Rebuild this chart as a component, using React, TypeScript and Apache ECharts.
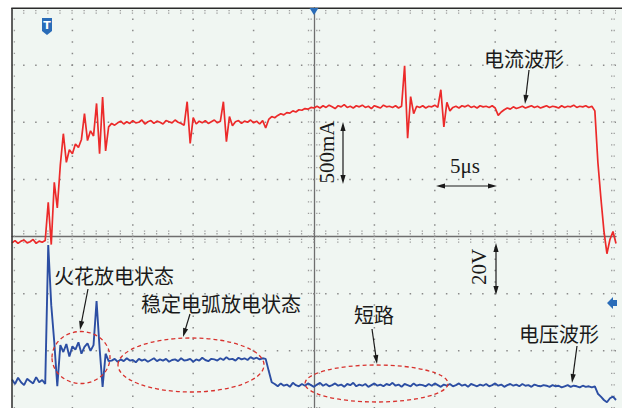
import React, { useEffect, useRef } from "react";
import * as echarts from "echarts";

// Oscilloscope capture: time in µs (screen centre = 0), amplitude in divisions from screen centre.
const TIME_START_US = -25;
const SAMPLE_STEP_US = 0.25;
const TIME_MIN_US = -25;
const TIME_MAX_US = 25;
const TIME_DIV_US = 5;
const DIV_MIN = -3;
const DIV_MAX = 4;
const MINOR_PER_DIV = 5;
const GRID_X_US = [-20, -15, -10, -5, 5, 10, 15, 20];
const GRID_Y_DIV = [-2, -1, 1, 2, 3];

// Current waveform (red), 500 mA/div
const CURRENT_DIV = [
  -0.11, -0.07, -0.12, -0.08, -0.06, -0.11, -0.09, -0.05, -0.12, -0.08, -0.1, -0.07,
  0.6, -0.14, 0.95, 0.5, 1.25, 1.8, 1.3, 1.52, 1.45, 1.62, 1.56, 1.7, 2.15, 1.68, 1.85, 1.76,
  2.33, 1.45, 2.44, 1.5, 1.92, 1.98, 1.95,
  1.99, 2.02, 1.97, 2.01, 1.98, 2.03, 1.99, 2.0, 2.04, 1.97, 2.01, 2.03, 1.98, 2.02, 2.0, 1.97,
  2.03, 2.01, 1.99, 2.04, 2.0, 1.98,
  1.95, 2.36, 1.63, 2.08, 1.97,
  2.02, 1.99, 2.03, 1.98, 2.01, 2.04, 1.99, 2.02,
  2.36, 1.66, 2.1, 1.94,
  2.01, 2.03, 1.98, 2.02, 2.0, 2.04, 1.99, 2.02, 1.97, 2.03, 1.9,
  2.05, 2.1, 2.08, 2.12, 2.15, 2.13, 2.17, 2.16, 2.2, 2.18, 2.22, 2.21, 2.24, 2.23, 2.26, 2.25,
  2.28, 2.25, 2.29, 2.26, 2.3, 2.27, 2.24, 2.29, 2.27, 2.31, 2.26, 2.28, 2.25, 2.29, 2.27, 2.3,
  2.26, 2.28, 2.24, 2.29, 2.27, 2.25, 2.3, 2.27, 2.28, 2.26, 2.29, 2.25, 2.28,
  2.99, 1.72, 2.45, 2.15,
  2.28, 2.26, 2.29, 2.25, 2.28, 2.27, 2.3, 2.26,
  2.57, 1.92, 2.35, 2.2,
  2.26, 2.28, 2.25, 2.29, 2.27, 2.3, 2.26, 2.28, 2.25, 2.29, 2.27, 2.28, 2.26, 2.29, 2.25,
  2.12, 2.18,
  2.22, 2.25, 2.23, 2.27, 2.24, 2.26, 2.28, 2.25, 2.27, 2.29, 2.26, 2.28, 2.25, 2.27, 2.29,
  2.26, 2.28, 2.27, 2.25, 2.29, 2.26, 2.28, 2.27, 2.3, 2.26, 2.28, 2.27, 2.29, 2.26, 2.28,
  2.2, 1.3, 0.67, 0.1, -0.3, -0.05, 0.09, -0.12,
];

// Voltage waveform (blue), 20 V/div
const VOLTAGE_DIV = [
  -2.5, -2.58, -2.47, -2.55, -2.6, -2.49, -2.53, -2.57, -2.46, -2.55, -2.51, -2.58,
  -0.15, -1.2, -1.85, -2.62, -1.9,
  -2.02, -1.88, -2.1, -1.92, -1.98, -1.85, -2.05, -1.93, -1.87, -2.0, -1.9,
  -1.13, -1.95, -2.63, -2.05, -2.18,
  -2.17, -2.14, -2.19, -2.15, -2.18, -2.13, -2.17, -2.16, -2.2, -2.14,
  -2.17, -2.15, -2.19, -2.16, -2.13, -2.18, -2.15, -2.17, -2.14, -2.19,
  -2.16, -2.15, -2.18, -2.13, -2.17, -2.16, -2.14, -2.19, -2.15, -2.17,
  -2.12, -2.16, -2.18, -2.14, -2.15, -2.17, -2.13, -2.16, -2.11, -2.15,
  -2.14, -2.17, -2.12, -2.15, -2.13, -2.16, -2.11, -2.14, -2.12, -2.15,
  -2.13, -2.14,
  -2.35, -2.55,
  -2.58, -2.62, -2.57, -2.61, -2.59, -2.63, -2.56, -2.6, -2.62, -2.58,
  -2.61, -2.57, -2.6, -2.63, -2.59, -2.56, -2.61, -2.58, -2.62, -2.6,
  -2.57, -2.61, -2.59, -2.63, -2.58, -2.6, -2.56, -2.62, -2.59, -2.61,
  -2.58, -2.63, -2.6, -2.57, -2.61, -2.59, -2.62, -2.58, -2.6, -2.56,
  -2.61, -2.59, -2.63, -2.58, -2.6, -2.62, -2.57, -2.61, -2.59, -2.6,
  -2.62, -2.58, -2.61, -2.57, -2.6, -2.63, -2.59, -2.61, -2.58, -2.62,
  -2.6, -2.57, -2.61, -2.59, -2.63, -2.58, -2.6, -2.62, -2.59, -2.61,
  -2.58, -2.62, -2.6, -2.57, -2.61, -2.59, -2.63, -2.6, -2.58, -2.61,
  -2.59, -2.62, -2.58, -2.61, -2.6, -2.63, -2.59, -2.61, -2.62, -2.6,
  -2.61, -2.63, -2.6, -2.62, -2.61, -2.64, -2.62, -2.6, -2.63, -2.61,
  -2.62, -2.64, -2.61, -2.63, -2.62, -2.64,
  -2.62, -2.75, -2.8, -2.86, -2.9, -2.83, -2.8, -2.86,
];

const LABEL_CURRENT = "电流波形";
const LABEL_VOLTAGE = "电压波形";
const LABEL_SPARK = "火花放电状态";
const LABEL_ARC = "稳定电弧放电状态";
const LABEL_SHORT = "短路";
const SCALE_CURRENT = "500mA";
const SCALE_TIME = "5μs";
const SCALE_VOLTAGE = "20V";

const CJK = "'Noto Sans CJK SC', sans-serif";
const SERIF = "'Liberation Serif', 'DejaVu Serif', serif";
const INK = "#1a1a1a";
const DOT = "#8a8a8a";
const TICK = "#9c9c9c";
const MARKER = "#2a6cb8";

function arrow(x1: number, y1: number, x2: number, y2: number, both = false) {
  const a = Math.atan2(y2 - y1, x2 - x1);
  const L = 9;
  const W = 2.6;
  const head = (x: number, y: number, ang: number) => {
    const bx = x - L * Math.cos(ang);
    const by = y - L * Math.sin(ang);
    const px = -Math.sin(ang) * W;
    const py = Math.cos(ang) * W;
    return {
      type: "polygon",
      z: 100,
      silent: true,
      shape: { points: [[x, y], [bx + px, by + py], [bx - px, by - py]] },
      style: { fill: INK },
    };
  };
  const sx = both ? x1 + (L - 2) * Math.cos(a) : x1;
  const sy = both ? y1 + (L - 2) * Math.sin(a) : y1;
  const els: any[] = [
    {
      type: "line",
      z: 100,
      silent: true,
      shape: { x1: sx, y1: sy, x2: x2 - (L - 2) * Math.cos(a), y2: y2 - (L - 2) * Math.sin(a) },
      style: { stroke: INK, lineWidth: 1.2 },
    },
    head(x2, y2, a),
  ];
  if (both) els.push(head(x1, y1, a + Math.PI));
  return els;
}

function text(str: string, x: number, y: number, font: string, size: number, rotation = 0, align = "left") {
  return {
    type: "text",
    z: 100,
    silent: true,
    x,
    y,
    rotation,
    style: {
      text: str,
      fill: INK,
      fontFamily: font,
      fontSize: size,
      align,
      textAlign: align,
      verticalAlign: "middle",
      textVerticalAlign: "middle",
    },
  };
}

function ellipse(cx: number, cy: number, rx: number, ry: number) {
  return {
    type: "ellipse",
    z: 99,
    silent: true,
    shape: { cx, cy, rx, ry },
    style: { fill: "none", stroke: "#d8322e", lineWidth: 1.3, lineDash: [4, 3] },
  };
}

export default function App() {
  const ref = useRef<HTMLDivElement>(null);
  useEffect(() => {
    const chart = echarts.init(ref.current!, undefined, { renderer: "svg" });
    const current = CURRENT_DIV.map((v, i) => [TIME_START_US + i * SAMPLE_STEP_US, v]);
    const voltage = VOLTAGE_DIV.map((v, i) => [TIME_START_US + i * SAMPLE_STEP_US, v]);

    const renderGrid = (_params: any, api: any) => {
      const tl = api.coord([TIME_MIN_US, DIV_MAX]);
      const br = api.coord([TIME_MAX_US, DIV_MIN]);
      const c = api.coord([0, 0]);
      const stepX = (br[0] - tl[0]) / ((TIME_MAX_US - TIME_MIN_US) / TIME_DIV_US) / MINOR_PER_DIV;
      const stepY = (br[1] - tl[1]) / (DIV_MAX - DIV_MIN) / MINOR_PER_DIV;
      const hline = (y: number, w: number, color: string) => ({
        type: "line",
        shape: { x1: tl[0], y1: y, x2: br[0] + 0.01, y2: y },
        style: { stroke: color, lineWidth: w, lineDash: [w, stepX - w], lineDashOffset: w / 2 },
      });
      const vline = (x: number, w: number, color: string) => ({
        type: "line",
        shape: { x1: x, y1: tl[1], x2: x, y2: br[1] + 0.01 },
        style: { stroke: color, lineWidth: w, lineDash: [w, stepY - w], lineDashOffset: w / 2 },
      });
      const children: any[] = [];
      GRID_X_US.forEach((t) => children.push(vline(api.coord([t, 0])[0], 1.5, DOT)));
      GRID_Y_DIV.forEach((d) => children.push(hline(api.coord([0, d])[1], 1.5, DOT)));
      [-5.5, -2.8, 2.8, 5.5].forEach((o) => {
        children.push(hline(c[1] + o, 1.3, TICK));
        children.push(vline(c[0] + o, 1.3, TICK));
      });
      [2.6, 5.2].forEach((o) => children.push(hline(tl[1] + o, 1.3, TICK)));
      children.push(vline(tl[0] + 2.4, 1.3, TICK));
      [-1.8, -4.3].forEach((o) => children.push(vline(br[0] + o, 1.3, TICK)));
      return { type: "group", children };
    };

    const option: any = {
      animation: false,
      backgroundColor: "#ffffff",
      grid: {
        left: 12,
        top: 8,
        width: 604,
        height: 402,
        show: false,
      },
      xAxis: {
        type: "value",
        min: TIME_MIN_US,
        max: TIME_MAX_US,
        interval: TIME_DIV_US,
        axisLine: { show: true, onZero: true, lineStyle: { color: "#6e6e6e", width: 1.3 } },
        axisTick: { show: false },
        axisLabel: { show: false },
        splitLine: { show: false },
      },
      yAxis: {
        type: "value",
        min: DIV_MIN,
        max: DIV_MAX,
        interval: 1,
        axisLine: { show: true, onZero: true, lineStyle: { color: "#6e6e6e", width: 1.3 } },
        axisTick: { show: false },
        axisLabel: { show: false },
        splitLine: { show: false },
      },
      series: [
        {
          name: "graticule",
          type: "custom",
          data: [[0, 0]],
          encode: { x: 0, y: 1 },
          renderItem: renderGrid,
          silent: true,
          clip: false,
          z: 1,
        },
        {
          name: "电压",
          type: "line",
          data: voltage,
          showSymbol: false,
          symbol: "none",
          silent: true,
          lineStyle: { color: "#2c4ea3", width: 1.9 },
          z: 3,
        },
        {
          name: "电流",
          type: "line",
          data: current,
          showSymbol: false,
          symbol: "none",
          silent: true,
          lineStyle: { color: "#ec2a2a", width: 1.7 },
          z: 4,
        },
      ],
      graphic: {
        elements: [
          {
            type: "rect",
            z: -10,
            silent: true,
            shape: { x: 12, y: 8, width: 610, height: 400 },
            style: { fill: "#f0f6f2" },
          },
          {
            type: "line",
            z: 90,
            silent: true,
            shape: { x1: 11.3, y1: 8.3, x2: 622, y2: 8.3 },
            style: { stroke: "#2b2b2b", lineWidth: 1.5 },
          },
          {
            type: "line",
            z: 90,
            silent: true,
            shape: { x1: 12, y1: 8, x2: 12, y2: 408 },
            style: { stroke: "#2b2b2b", lineWidth: 1.5 },
          },
          // trigger marker
          {
            type: "polygon",
            z: 100,
            silent: true,
            shape: { points: [[42, 18], [52, 18], [52, 31], [47, 35], [42, 31]] },
            style: { fill: MARKER },
          },
          {
            type: "text",
            z: 101,
            silent: true,
            x: 47,
            y: 25.5,
            style: {
              text: "T",
              fill: "#ffffff",
              fontFamily: "'DejaVu Sans', sans-serif",
              fontWeight: "bold",
              fontSize: 11,
              align: "center",
              textAlign: "center",
              verticalAlign: "middle",
              textVerticalAlign: "middle",
            },
          },
          // horizontal position marker
          {
            type: "polygon",
            z: 100,
            silent: true,
            shape: { points: [[309.5, 8], [318.5, 8], [314, 15]] },
            style: { fill: MARKER },
          },
          // level marker at right edge
          {
            type: "polygon",
            z: 100,
            silent: true,
            shape: { points: [[607, 303], [613, 297], [613, 300], [617, 300], [617, 306], [613, 306], [613, 309]] },
            style: { fill: MARKER },
          },
          ellipse(81, 357.5, 29, 26),
          ellipse(191, 365, 73, 27),
          ellipse(376.5, 383.5, 71.5, 18.5),
          text(LABEL_CURRENT, 484, 58, CJK, 20),
          ...arrow(529, 70, 525, 104),
          text(LABEL_SPARK, 54, 275, CJK, 20),
          ...arrow(88, 289, 80, 330),
          text(LABEL_ARC, 141, 303, CJK, 20),
          ...arrow(190, 314, 183, 337),
          text(LABEL_SHORT, 354, 314, CJK, 20),
          ...arrow(372, 329, 377, 364),
          text(LABEL_VOLTAGE, 519, 333, CJK, 20),
          ...arrow(577, 346, 572, 383),
          text(SCALE_CURRENT, 327, 152, SERIF, 21, Math.PI / 2, "center"),
          ...arrow(343, 122, 343, 184, true),
          text(SCALE_TIME, 465, 166, SERIF, 21, 0, "center"),
          ...arrow(436, 186, 497, 186, true),
          text(SCALE_VOLTAGE, 479, 267, SERIF, 21, Math.PI / 2, "center"),
          ...arrow(496, 243, 496, 295, true),
        ],
      },
    };
    chart.setOption(option);
    return () => chart.dispose();
  }, []);
  return (
    <div
      ref={ref}
      style={{ position: "fixed", left: 0, top: 0, width: 622, height: 408, background: "#fff" }}
    />
  );
}
